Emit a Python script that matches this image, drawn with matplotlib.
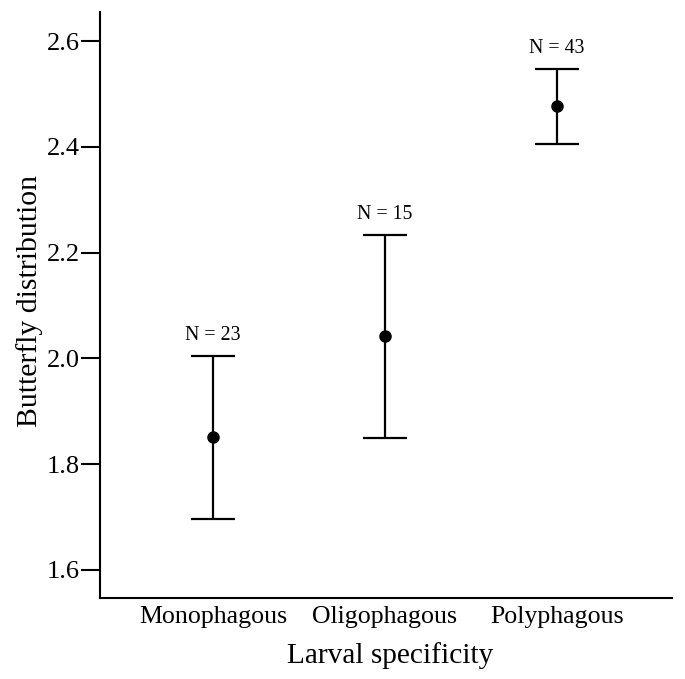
import matplotlib
matplotlib.use("Agg")
import matplotlib.pyplot as plt

categories = ["Monophagous", "Oligophagous", "Polyphagous"]
means = [1.851, 2.043, 2.477]
upper = [2.005, 2.233, 2.547]
lower = [1.697, 1.850, 2.406]
n_labels = ["N = 23", "N = 15", "N = 43"]
yticks = [1.6, 1.8, 2.0, 2.2, 2.4, 2.6]

plt.rcParams['font.family'] = ['Liberation Serif', 'DejaVu Serif']

fig = plt.figure(figsize=(6.85, 6.79), dpi=100)
ax = fig.add_axes([100/685, 81/679, 572/685, 586/679])

x = list(range(len(categories)))
yerr = [[m - l for m, l in zip(means, lower)], [u - m for m, u in zip(means, upper)]]
ax.errorbar(x, means, yerr=yerr, fmt='o', color='black', ecolor='black',
            elinewidth=1.6, capsize=15.5, capthick=1.6, markersize=8)
for xi, u, lab in zip(x, upper, n_labels):
    ax.annotate(lab, (xi, u), xytext=(0, 8), textcoords='offset points',
                ha='center', va='bottom', fontsize=14.3)

ax.set_xlim(-0.657, 2.669)
ax.set_ylim(1.547, 2.655)
ax.set_xticks(x)
ax.set_xticklabels(categories, fontsize=18.6)
ax.set_yticks(yticks)
ax.set_yticklabels([f"{v:.1f}" for v in yticks], fontsize=19)
ax.tick_params(axis='x', length=0, pad=6)
ax.tick_params(axis='y', length=13.5, width=1.5, direction='out', pad=1)
for s in ['top', 'right']:
    ax.spines[s].set_visible(False)
for s in ['left', 'bottom']:
    ax.spines[s].set_linewidth(1.5)
ax.set_xlabel("Larval specificity", fontsize=21.2, labelpad=10)
ax.set_ylabel("Butterfly distribution", fontsize=21.4, labelpad=3)
ax.xaxis.label.set_x(0.5 + 4/572)
ax.yaxis.label.set_y(0.5 + 4/586)

fig.savefig("out.png", dpi=100)
